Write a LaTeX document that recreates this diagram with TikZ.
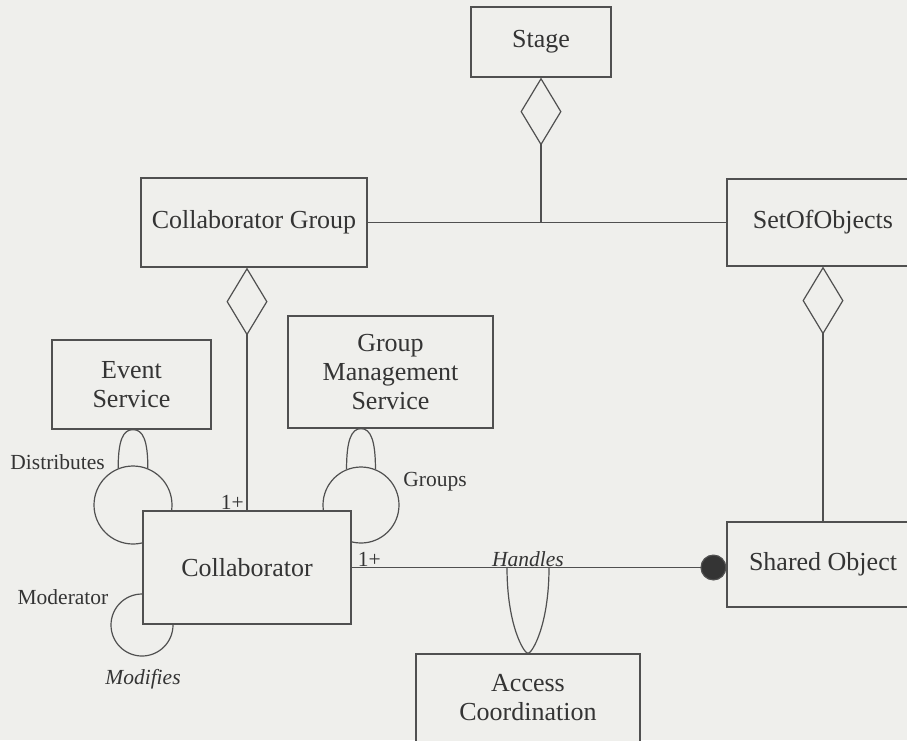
\documentclass[tikz,border=0pt]{standalone}
\usepackage{fontspec}
\setmainfont{Liberation Serif}
\usetikzlibrary{positioning,arrows.meta}
\definecolor{ScanPaper}{RGB}{239,239,236}
\definecolor{ScanInk}{RGB}{52,52,52}
\definecolor{ScanLine}{RGB}{80,80,80}

\begin{document}
\begin{tikzpicture}[x=1pt,y=-1pt,
  cls/.style={draw=ScanLine,fill=ScanPaper,line width=1.2pt,text=ScanInk,align=center,inner sep=0pt,font=\fontsize{26}{29}\selectfont},
  lbl/.style={text=ScanInk,inner sep=1pt,font=\fontsize{21.5}{24}\selectfont},
  ring/.style={draw=ScanLine,line width=1.2pt,circle,inner sep=0pt},
  lnk/.style={draw=ScanLine,line width=1.2pt},
  agg/.style={lnk,-{Diamond[open,length=68pt,width=41pt]}},
  hold/.style={lnk,-{Circle[length=26pt,width=26pt,fill=ScanInk]}}]
  \useasboundingbox (0,0) rectangle (907,740);
  \fill[ScanPaper] (0,0) rectangle (907,740);
  \clip (0,0) rectangle (907,740);
  % association rings (partly hidden behind Collaborator)
  \node[ring,minimum size=78pt] (distring) at (133,505) {};
  \node[ring,minimum size=76pt] (groupring) at (361,505) {};
  \node[ring,minimum size=62pt] (modring) at (142,625) {};
  % classes
  \node[cls,minimum width=140pt,minimum height=70pt] (stage) at (541,42) {Stage};
  \node[cls,minimum width=226pt,minimum height=89pt] (cgroup) at (254,222.5) {Collaborator Group};
  \node[cls,minimum width=192pt,minimum height=87pt] (setobj) at (823,222.5) {SetOfObjects};
  \node[cls,minimum width=159pt,minimum height=89pt] (event) at (131.5,384.5) {Event\\Service};
  \node[cls,minimum width=205pt,minimum height=112pt] (gms) at (390.5,372) {Group\\Management\\Service};
  \node[cls,minimum width=208pt,minimum height=113pt] (collab) at (247,567.5) {Collaborator};
  \node[cls,minimum width=192pt,minimum height=85pt] (shared) at (823,564.5) {Shared Object};
  \node[cls,minimum width=224pt,minimum height=88pt] (access) at (528,698) {Access\\Coordination};
  % aggregation links
  \coordinate (join) at (stage.south |- cgroup.east);
  \draw[lnk] (cgroup.east) -- (setobj.west);
  \draw[agg] (join) -- (stage.south);
  \draw[agg] (collab.north) -- (collab.north |- cgroup.south);
  \draw[agg] (shared.north) -- (setobj.south);
  % Handles association
  \draw[hold] (collab.east) -- (collab.east -| shared.west);
  \coordinate (hmid) at (access.north |- collab.east);
  \draw[lnk] ([xshift=-21pt]hmid) .. controls +(0,58) and +(-4,0) .. (access.north)
    .. controls +(4,0) and +(0,58) .. ([xshift=21pt]hmid);
  % ring hooks
  \draw[lnk] (distring.112) .. controls +(0,-28) and +(-10,0) .. (event.south -| distring.north)
    .. controls +(10,0) and +(0,-28) .. (distring.68);
  \draw[lnk] (groupring.112) .. controls +(0,-28) and +(-10,0) .. (gms.south -| groupring.north)
    .. controls +(10,0) and +(0,-28) .. (groupring.68);
  % labels
  \node[lbl,above left=0pt and 2pt of collab.north] (multa) {1+};
  \node[lbl,above right=0pt and 5pt of collab.east] (multb) {1+};
  \node[lbl,above=0pt of hmid] (handles) {\itshape Handles};
  \node[lbl,anchor=east] (distlbl) at (106,462) {Distributes};
  \node[lbl] (grouplbl) at (435,482) {Groups};
  \node[lbl] (modlbl) at (63,597) {Moderator};
  \node[lbl] (modifies) at (143,679) {\itshape Modifies};
\end{tikzpicture}
\end{document}
